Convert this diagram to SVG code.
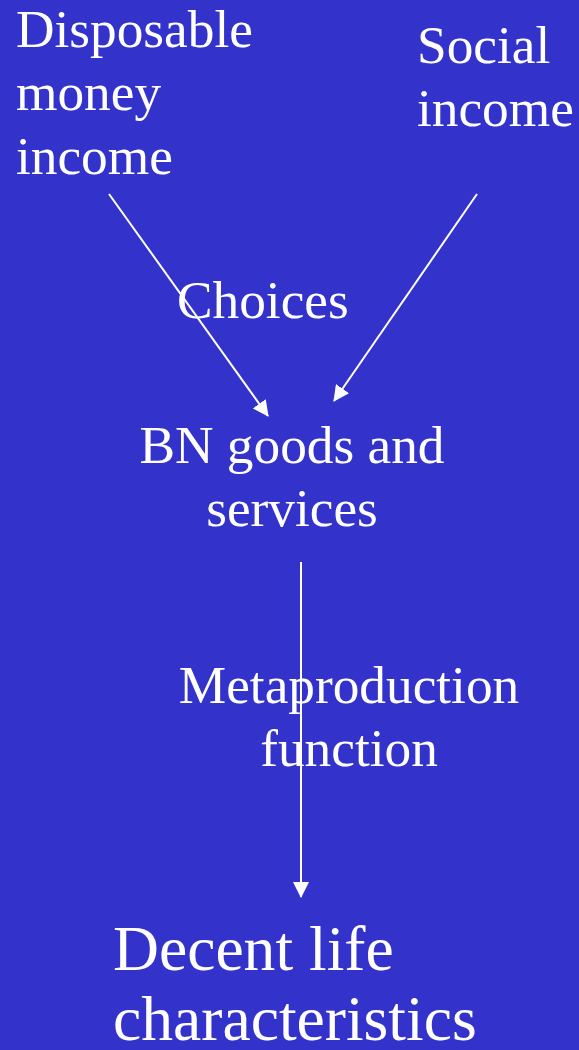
<svg xmlns="http://www.w3.org/2000/svg" width="579" height="1050" viewBox="0 0 579 1050">
<defs>
<style>
text{font-family:"Liberation Serif","Times New Roman",serif;fill:#ffffff;}
.t{font-size:53.3px;}
.b{font-size:63.6px;}
.c{stroke:#ffffff;stroke-width:2;fill:none;}
</style>
<marker id="ah" viewBox="0 0 16 16" refX="15" refY="8" markerWidth="16" markerHeight="16" markerUnits="userSpaceOnUse" orient="auto">
<path d="M0,0 L16,8 L0,16 Z" fill="#ffffff"/>
</marker>
</defs>
<rect width="579" height="1050" fill="#3333CC"/>
<g id="connectors">
<line class="c" x1="109" y1="194" x2="268" y2="416" marker-end="url(#ah)"/>
<line class="c" x1="477" y1="194" x2="334" y2="401" marker-end="url(#ah)"/>
<line class="c" x1="301" y1="562" x2="301" y2="897" marker-end="url(#ah)"/>
</g>
<g id="disposable">
<text class="t" x="16" y="47">Disposable</text>
<text class="t" x="16" y="110">money</text>
<text class="t" x="16" y="174">income</text>
</g>
<g id="social">
<text class="t" x="417" y="63">Social</text>
<text class="t" x="417" y="126">income</text>
</g>
<g id="choices">
<text class="t" x="177" y="318">Choices</text>
</g>
<g id="bn">
<text class="t" x="292" y="463" text-anchor="middle">BN goods and</text>
<text class="t" x="292" y="526" text-anchor="middle">services</text>
</g>
<g id="meta">
<text class="t" x="349" y="703" text-anchor="middle">Metaproduction</text>
<text class="t" x="349" y="766" text-anchor="middle">function</text>
</g>
<g id="decent">
<text class="b" x="113" y="970">Decent life</text>
<text class="b" x="113" y="1040">characteristics</text>
</g>
</svg>
